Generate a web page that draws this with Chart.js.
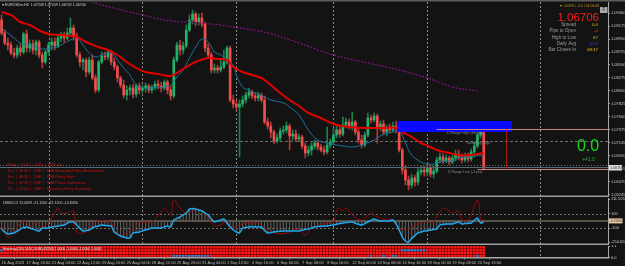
<!DOCTYPE html>
<html>
<head>
<meta charset="utf-8">
<script src="https://cdn.jsdelivr.net/npm/chart.js@4.4.1/dist/chart.umd.min.js"></script>
<style>
  html, body { margin: 0; padding: 0; background: #131313; }
  #wrap { position: relative; width: 625px; height: 266px; overflow: hidden; background: #131313; }
  #wrap canvas { position: absolute; left: 0; }
</style>
</head>
<body>
<div id="wrap">
  <canvas id="mainChart" width="625" height="197" style="top:0px"></canvas>
  <canvas id="cciChart" width="625" height="48" style="top:197px"></canvas>
  <canvas id="heatChart" width="625" height="21" style="top:245px"></canvas>
</div>
<script>
// EURUSDm H4 candles, bar index 0 = 16 Aug 12:00
const opens = [
  1.09282,1.09056,1.08882,1.08847,1.08708,1.08673,1.08795,1.08725,1.09038,1.08795,
  1.08864,1.08760,1.08899,1.08673,1.08551,1.08725,1.08847,1.08899,1.08830,1.08969,
  1.09021,1.08969,1.09056,1.09143,1.09004,1.08673,1.08551,1.08586,1.08377,1.08586,
  1.08273,1.08064,1.08551,1.08656,1.08638,1.08725,1.08551,1.08464,1.08273,1.08151,
  1.07977,1.08064,1.08099,1.07994,1.08134,1.08064,1.08099,1.08134,1.08064,1.08116,
  1.08168,1.08134,1.08099,1.08203,1.08064,1.07960,1.08586,1.08847,1.08760,1.08830,
  1.09108,1.09282,1.09386,1.09247,1.09317,1.09212,1.08795,1.08673,1.08412,1.08447,
  1.08412,1.08464,1.08551,1.08795,1.07890,1.07820,1.07768,1.07820,1.07890,1.07977,
  1.08029,1.07960,1.07925,1.07977,1.07890,1.07507,1.07438,1.07333,1.07177,1.07229,
  1.07351,1.07368,1.07438,1.07264,1.07298,1.07211,1.07246,1.07090,1.06968,1.07020,
  1.07090,1.07142,1.07072,1.07020,1.06985,1.07107,1.07159,1.07281,1.07368,1.07298,
  1.07455,1.07507,1.07438,1.07507,1.07333,1.07194,1.07107,1.07281,1.07577,1.07542,
  1.07612,1.07403,1.07472,1.07333,1.07403,1.07368,1.07438,1.07403,1.07020,1.06672,
  1.06498,1.06411,1.06533,1.06463,1.06637,1.06672,1.06637,1.06707,1.06602,1.06655,
  1.06846,1.06898,1.06829,1.06881,1.06811,1.06881,1.06950,1.06898,1.06846,1.06916,
  1.06863,1.06985,1.07090,1.07281,1.07333
];
const highs = [
  1.09369,1.09108,1.08969,1.08899,1.08795,1.08847,1.08864,1.09073,1.09108,1.08934,
  1.08934,1.08934,1.08934,1.08725,1.08760,1.08899,1.08969,1.08969,1.09021,1.09073,
  1.09073,1.09143,1.09317,1.09195,1.09056,1.08725,1.08621,1.08621,1.08638,1.08673,
  1.08325,1.08586,1.08725,1.08725,1.08760,1.08760,1.08621,1.08499,1.08308,1.08238,
  1.08134,1.08151,1.08168,1.08168,1.08186,1.08151,1.08186,1.08168,1.08151,1.08221,
  1.08238,1.08203,1.08238,1.08238,1.08134,1.08638,1.08899,1.08934,1.08899,1.09195,
  1.09369,1.09456,1.09421,1.09386,1.09404,1.09247,1.08864,1.08725,1.08516,1.08499,
  1.08586,1.08760,1.08830,1.08830,1.07977,1.07890,1.07890,1.07960,1.08029,1.08099,
  1.08064,1.08012,1.08029,1.08012,1.07960,1.07577,1.07507,1.07368,1.07298,1.07403,
  1.07438,1.07507,1.07472,1.07368,1.07368,1.07298,1.07281,1.07142,1.07090,1.07142,
  1.07194,1.07177,1.07124,1.07090,1.07420,1.07211,1.07403,1.07438,1.07438,1.07594,
  1.07577,1.07559,1.07681,1.07542,1.07403,1.07281,1.07333,1.07664,1.07629,1.07664,
  1.07646,1.07525,1.07542,1.07455,1.07472,1.07507,1.07525,1.07455,1.07055,1.06742,
  1.06568,1.06602,1.06585,1.06707,1.06742,1.06742,1.06776,1.06759,1.06742,1.06898,
  1.06968,1.06950,1.06933,1.06916,1.06933,1.07020,1.07020,1.06950,1.06968,1.06968,
  1.07037,1.07159,1.07368,1.07472,1.07403
];
const lows = [
  1.09021,1.08847,1.08760,1.08673,1.08621,1.08621,1.08656,1.08690,1.08725,1.08725,
  1.08690,1.08673,1.08621,1.08447,1.08516,1.08673,1.08760,1.08760,1.08795,1.08899,
  1.08899,1.08934,1.09004,1.08934,1.08638,1.08464,1.08412,1.08290,1.08342,1.08238,
  1.08012,1.08029,1.08516,1.08586,1.08586,1.08499,1.08412,1.08203,1.08099,1.07925,
  1.07890,1.07977,1.07925,1.07942,1.07994,1.08012,1.08029,1.08012,1.08012,1.08064,
  1.08081,1.08029,1.08064,1.07994,1.07890,1.07925,1.08551,1.08673,1.08690,1.08795,
  1.09073,1.09212,1.09178,1.09195,1.09160,1.08725,1.08621,1.08360,1.08360,1.08360,
  1.08377,1.08429,1.08516,1.07855,1.07751,1.07716,1.06898,1.07768,1.07838,1.07925,
  1.07907,1.07873,1.07873,1.07855,1.07472,1.07385,1.07229,1.07124,1.07142,1.07177,
  1.07298,1.07316,1.07020,1.07194,1.07159,1.07159,1.07037,1.06881,1.06916,1.06933,
  1.07037,1.07020,1.06985,1.06933,1.06950,1.07055,1.07124,1.07229,1.07246,1.07264,
  1.07403,1.07385,1.07368,1.07281,1.07142,1.07055,1.07072,1.07246,1.07490,1.07507,
  1.07142,1.07351,1.07281,1.07264,1.07316,1.07333,1.07316,1.06985,1.06602,1.06411,
  1.06324,1.06359,1.06394,1.06411,1.06585,1.06568,1.06568,1.06550,1.06533,1.06620,
  1.06794,1.06776,1.06794,1.06759,1.06776,1.06829,1.06846,1.06794,1.06811,1.06811,
  1.06829,1.06898,1.07055,1.07229,1.06672
];
const closes = [
  1.09056,1.08882,1.08847,1.08708,1.08673,1.08795,1.08725,1.09038,1.08795,1.08864,
  1.08760,1.08899,1.08673,1.08551,1.08725,1.08847,1.08899,1.08830,1.08969,1.09021,
  1.08969,1.09056,1.09143,1.09004,1.08673,1.08551,1.08586,1.08377,1.08586,1.08273,
  1.08064,1.08551,1.08656,1.08638,1.08725,1.08551,1.08464,1.08273,1.08151,1.07977,
  1.08064,1.08099,1.07994,1.08134,1.08064,1.08099,1.08134,1.08064,1.08116,1.08168,
  1.08134,1.08099,1.08203,1.08064,1.07960,1.08586,1.08847,1.08760,1.08830,1.09108,
  1.09282,1.09386,1.09247,1.09317,1.09212,1.08795,1.08673,1.08412,1.08447,1.08412,
  1.08464,1.08551,1.08795,1.07890,1.07820,1.07768,1.07820,1.07890,1.07977,1.08029,
  1.07960,1.07925,1.07977,1.07890,1.07507,1.07438,1.07333,1.07177,1.07229,1.07351,
  1.07368,1.07438,1.07264,1.07298,1.07211,1.07246,1.07090,1.06968,1.07020,1.07090,
  1.07142,1.07072,1.07020,1.06985,1.07107,1.07159,1.07281,1.07368,1.07298,1.07455,
  1.07507,1.07438,1.07507,1.07333,1.07194,1.07107,1.07281,1.07577,1.07542,1.07612,
  1.07403,1.07472,1.07333,1.07403,1.07368,1.07438,1.07403,1.07020,1.06672,1.06498,
  1.06411,1.06533,1.06463,1.06637,1.06672,1.06637,1.06707,1.06602,1.06655,1.06846,
  1.06898,1.06829,1.06881,1.06811,1.06881,1.06950,1.06898,1.06846,1.06916,1.06863,
  1.06985,1.07090,1.07281,1.07333,1.06706
];

// moving averages (read at sample bars)
const redEmaIdx = [0,3,6,9,13,16,19,22,24,27,31,34,37,40,43,46,50,54,56,59,62,66,69,72,74,77,80,83,86,89,92,95,98,102,106,111,117,122,126,128,131,134,137,140,143,146,150,154];
const redEma = [1.09421,1.09369,1.09247,1.09195,1.09073,1.09030,1.09021,1.09004,1.08986,1.08899,
  1.08812,1.08760,1.08673,1.08551,1.08447,1.08377,1.08342,1.08308,1.08360,1.08464,
  1.08551,1.08621,1.08603,1.08586,1.08464,1.08377,1.08325,1.08273,1.08151,1.08012,
  1.07890,1.07786,1.07664,1.07577,1.07472,1.07420,1.07403,1.07403,1.07403,1.07333,
  1.07246,1.07142,1.07072,1.07003,1.06968,1.06933,1.06933,1.06968];
const blueMaIdx = [0,2,4,6,9,11,13,16,18,20,22,24,26,28,30,32,35,37,39,41,43,45,48,52,54,56,58,60,62,64,66,68,70,72,74,75,77,79,81,84,86,90,92,95,98,101,104,107,109,112,115,119,122,125,127,129,131,134,136,138,140,142,144,146,149,151,154];
const blueMa = [1.09143,1.09056,1.08969,1.08882,1.08847,1.08812,1.08777,1.08795,1.08812,1.08882,
  1.08934,1.08969,1.08847,1.08708,1.08638,1.08673,1.08708,1.08586,1.08447,1.08325,
  1.08151,1.08099,1.08099,1.08116,1.08151,1.08290,1.08412,1.08621,1.08812,1.08951,
  1.08899,1.08725,1.08673,1.08586,1.08499,1.08325,1.08116,1.08064,1.08012,1.07942,
  1.07890,1.07838,1.07768,1.07629,1.07368,1.07194,1.07142,1.07107,1.07090,1.07072,
  1.07107,1.07194,1.07298,1.07333,1.07368,1.07142,1.06933,1.06811,1.06776,1.06776,
  1.06811,1.06829,1.06829,1.06881,1.06898,1.06916,1.06933];
const longMaIdx = [0,10,20,27,32,45,54,64,74,85,95,106,117,127,136,144,152];
const longMa = [1.10065,1.09891,1.09717,1.09630,1.09543,1.09369,1.09265,1.09230,1.09160,1.09056,1.08882,1.08673,1.08534,1.08412,1.08273,1.08116,1.08047];

// DMI&CCI window
const cci = [
  -110,-150,-178,-170,-164,-140,-110,-90,-82,-95,
  -110,-125,-137,-96,-98,-96,-85,-75,-68,-60,
  -55,-30,-14,-14,-55,-100,-137,-130,-123,-95,
  -75,-68,-55,-60,-65,-68,-151,-180,-205,-220,
  -233,-233,-164,-158,-151,-135,-123,-110,-96,-96,
  -96,-96,-80,-68,-82,14,35,55,85,110,
  164,170,164,150,137,110,82,30,-14,0,
  14,27,-27,-80,-123,-150,-164,-96,-90,-82,
  -80,-82,-82,-82,-130,-164,-158,-151,-145,-140,
  -138,-137,-137,-137,-137,-137,-125,-115,-110,-95,
  -82,-75,-72,-70,-68,-60,-55,-45,-35,-27,
  -20,-16,-14,-30,-45,-55,-35,-14,10,27,
  10,0,0,0,5,14,-40,-123,-220,-274,
  -288,-240,-200,-164,-150,-137,-130,-123,-115,-110,
  -55,-48,-41,-41,-41,-25,-14,-41,-35,-30,
  -27,10,41,-27,-14
];
const dmiIdx = [0,2,4,6,8,9,11,13,15,17,18,19,21,23,24,27,29,31,34,35,36,38,40,42,44,46,48,51,52,54,55,57,59,61,63,66,68,70,72,74,76,78,82,84,87,91,95,97,99,101,104,106,107,108,109,110,112,115,117,118,120,123,125,127,129,130,132,134,136,138,139,141,143,144,146,147,149,150,152,153];
const dmi = [-55,-219,-164,-27,-14,-82,-27,-82,-14,110,
  178,110,110,137,-151,-151,-55,0,0,-14,
  -123,-192,-164,-96,-27,-14,-14,123,178,82,
  288,178,110,137,164,41,-68,-55,-14,-96,
  -55,-27,-27,-96,-164,-164,-110,-192,-96,-68,
  -27,-27,151,178,137,178,82,14,82,110,
  55,14,14,-96,-123,-100,-55,-27,-14,-14,
  55,178,137,110,137,14,14,82,288,-14];

// heatmap window: bars where a row turns blue
const heatRowBlue = [
  [55,56,57,58,59,60,61,62,63,64,65,66,118,122,125,126,152],
  [],
  [0,128,129,130,131,132,133,134,135],
  []
];

// axes
const priceTicks = [1.09400,1.09175,1.08950,1.08725,1.08500,1.08275,1.08050,1.07825,1.07600,1.07375,1.07145,1.06920,1.06695,1.06470,1.06245];
const cciTickVals = [297, 100, -100, -292];
const cciTickLabels = ['111.5056', '100', '-100', '-254.6567'];
const heatTickVals = [1.1, 0];
const heatTickLabels = ['1.1', '0.0'];
const xTickIdx = [0,8,16,24,32,40,48,56,64,72,80,88,96,104,112,120,128,136,144,152];
const xLabels = ['16 Aug 2023','17 Aug 20:00','21 Aug 04:00','22 Aug 12:00','23 Aug 20:00','25 Aug 04:00','28 Aug 12:00','29 Aug 20:00','31 Aug 04:00','1 Sep 12:00',
  '4 Sep 16:00','6 Sep 00:00','7 Sep 08:00','8 Sep 16:00','12 Sep 00:00','13 Sep 08:00','14 Sep 16:00','18 Sep 00:00','19 Sep 08:00','20 Sep 16:00'];
const weekStarts = [15, 45, 75, 106, 136, 172];

// levels and objects on the price chart
const yesterdayHigh = 1.07177;
const yesterdayLow = 1.06759;
const dRangeHigh = 1.07385;
const dRangeLow = 1.06689;
const zone = { from: 126.4, to: 163, top: 1.07525, bottom: 1.07333 };
const rangeBar = 161;

const newsLines = [
  'Wed  |  15:45  |  NZD  |  GDP q/q',
  'Thu  |  09:30  |  CHF  |  SNB Monetary Policy Assessment',
  'Thu  |  09:30  |  CHF  |  SNB Policy Rate',
  'Thu  |  09:30  |  CHF  |  SNB Press Conference',
  'Thu  |  12:00  |  GBP  |  Monetary Policy Summary'
];
const infoRows = [
  ['Spread', '0.0', '#e3c01e'],
  ['Pips to Open', '-4', '#ff2222'],
  ['High to Low', '67', '#e3c01e'],
  ['Daily Avg', '57.0', '#2a45ff'],
  ['Bar Closes In', '08:37', '#e3c01e']
];

const FONT = "'Liberation Sans', Arial, sans-serif";
Chart.defaults.font.family = FONT;
Chart.defaults.font.size = 4;
Chart.defaults.color = '#c4c4c4';
Chart.defaults.animation = false;
Chart.defaults.plugins.legend.display = false;
Chart.defaults.plugins.tooltip.enabled = false;

const X_MIN = -0.5, X_MAX = 193.7;
const AXIS_W = 17;
const BULL = '#22b26b', BEAR = '#f24d4d', BULL_WICK = '#1c7e4b', BEAR_WICK = '#b13838';

function xAxis() {
  return { type: 'linear', min: X_MIN, max: X_MAX, display: false, offset: false };
}
function fixRight(s) { s.width = AXIS_W; s.paddingTop = 0; s.paddingBottom = 0; }

function text(ctx, s, x, y, color, size, align) {
  ctx.save();
  ctx.font = size + 'px ' + FONT;
  ctx.fillStyle = color;
  ctx.textAlign = align || 'left';
  ctx.textBaseline = 'middle';
  ctx.fillText(s, x, y);
  ctx.restore();
}
function hLine(ctx, x1, x2, y, color, width, dash) {
  ctx.save();
  ctx.strokeStyle = color; ctx.lineWidth = width; ctx.setLineDash(dash || []);
  ctx.beginPath(); ctx.moveTo(x1, y); ctx.lineTo(x2, y); ctx.stroke();
  ctx.restore();
}
function weekLines(chart) {
  const { ctx, chartArea, scales } = chart;
  ctx.save();
  ctx.strokeStyle = '#8a8a8a'; ctx.lineWidth = 1; ctx.setLineDash([2, 2]);
  weekStarts.forEach(i => {
    const x = Math.round(scales.x.getPixelForValue(i)) + 0.5;
    ctx.beginPath(); ctx.moveTo(x, chartArea.top); ctx.lineTo(x, chartArea.bottom); ctx.stroke();
  });
  ctx.restore();
}

// ---------- price window ----------
const mainOverlay = {
  id: 'mainOverlay',
  beforeDatasetsDraw(chart) {
    const { ctx, chartArea, scales: { y } } = chart;
    weekLines(chart);
    hLine(ctx, chartArea.left, chartArea.right, Math.round(y.getPixelForValue(yesterdayHigh)) + 0.5, '#6c6c6c', 1, [3, 2]);
    hLine(ctx, chartArea.left, chartArea.right, Math.round(y.getPixelForValue(yesterdayLow)) + 0.5, '#6c6c6c', 1, [1, 2]);
  },
  afterDatasetsDraw(chart) {
    const { ctx, chartArea, scales: { x, y } } = chart;
    // supply zone
    ctx.fillStyle = '#0a0aff';
    const zx1 = x.getPixelForValue(zone.from), zx2 = x.getPixelForValue(zone.to);
    const zy1 = y.getPixelForValue(zone.top), zy2 = y.getPixelForValue(zone.bottom);
    ctx.fillRect(zx1, zy1, zx2 - zx1, zy2 - zy1);
    // day range lines
    const yH = Math.round(y.getPixelForValue(dRangeHigh)) + 0.5;
    const yL = Math.round(y.getPixelForValue(dRangeLow)) + 0.5;
    const bid = closes[closes.length - 1];
    const yB = Math.round(y.getPixelForValue(bid)) + 0.5;
    hLine(ctx, chartArea.left, chartArea.right, yB - 1, '#56687a', 1);
    hLine(ctx, x.getPixelForValue(139), chartArea.right, yH, '#c98484', 1.2);
    hLine(ctx, x.getPixelForValue(152), chartArea.right, yL, '#c98484', 1.2);
    ctx.save();
    ctx.strokeStyle = '#a01818'; ctx.lineWidth = 1;
    const rx = Math.round(x.getPixelForValue(rangeBar)) + 0.5;
    ctx.beginPath(); ctx.moveTo(rx, yH); ctx.lineTo(rx, yL); ctx.stroke();
    ctx.restore();
    text(ctx, 'D Range High (66 pts)', 447, yH + 3, '#8c8c8c', 3.6);
    text(ctx, 'Yesterday High', 466, y.getPixelForValue(yesterdayHigh) + 2, '#8c8c8c', 3.6);
    text(ctx, 'D Range Low (-3 pts)', 448, yL + 2.5, '#8c8c8c', 3.6);

    // news
    newsLines.forEach((s, k) => text(ctx, s, 7, 165 + k * 6, '#cc1515', 3.8));

    // header
    text(ctx, '\u25BE EURUSDm,H4  1.07208 1.07209 1.06702 1.06706', 2, 4.5, '#d6d6d6', 3.6);

    // info panel
    text(ctx, '\u25BC -0.06% / -2.0 / 01:06:03', 599, 6, '#d49a1c', 3.4, 'right');
    text(ctx, bid.toFixed(5), 599, 18, '#ff1c1c', 11.5, 'right');
    infoRows.forEach((r, k) => {
      const yy = 24.8 + k * 6.3;
      text(ctx, r[0], 576, yy, '#9c9c9c', 4.6, 'right');
      text(ctx, r[1], 598, yy, r[2], 4.4, 'right');
    });
    ctx.fillStyle = '#a8a8a8';
    ctx.fillRect(600, 7, 7.5, 6);
    text(ctx, 'F', 603.8, 10.2, '#1e1e1e', 4.5, 'center');

    text(ctx, '0.0', 588, 147, '#1ed41e', 16, 'center');
    text(ctx, '+41.0', 588.5, 159.5, '#2fa52f', 5, 'center');

    // borders
    ctx.fillStyle = '#5c5c5c';
    ctx.fillRect(0, 0, 625, 1.5);
    ctx.fillStyle = '#a0a0a0';
    ctx.fillRect(0, 195.5, chartArea.right, 1.5);

    // current price on axis
    ctx.fillStyle = '#dedede';
    ctx.fillRect(609, yB - 3.5, 13, 5.5);
    text(ctx, bid.toFixed(5), 610, yB - 0.7, '#2a2a2a', 3.8);
  }
};

new Chart(document.getElementById('mainChart'), {
  type: 'bar',
  data: {
    datasets: [
      { type: 'line', data: redEmaIdx.map((i, k) => ({ x: i, y: redEma[k] })), borderColor: '#e00000', borderWidth: 2, pointRadius: 0, tension: 0.4, order: 0 },
      { type: 'line', data: blueMaIdx.map((i, k) => ({ x: i, y: blueMa[k] })), borderColor: '#1a7499', borderWidth: 1, pointRadius: 0, tension: 0.4, order: 1 },
      { type: 'line', data: longMaIdx.map((i, k) => ({ x: i, y: longMa[k] })), borderColor: '#7a157a', borderWidth: 1.3, borderDash: [2, 1.5], pointRadius: 0, tension: 0.4, order: 2 },
      { data: opens.map((o, i) => ({ x: i, y: [o, closes[i]] })), backgroundColor: opens.map((o, i) => closes[i] >= o ? BULL : BEAR),
        barThickness: 2, minBarLength: 1, grouped: false, order: 3 },
      { data: lows.map((l, i) => ({ x: i, y: [l, highs[i]] })), backgroundColor: opens.map((o, i) => closes[i] >= o ? BULL_WICK : BEAR_WICK),
        barThickness: 1, grouped: false, order: 4 }
    ]
  },
  options: {
    responsive: false, devicePixelRatio: 1,
    layout: { padding: { top: 2, bottom: 1, left: 0, right: 0 } },
    scales: {
      x: xAxis(),
      y: {
        position: 'right', min: 1.06220, max: 1.09595, afterFit: fixRight,
        afterBuildTicks: s => { s.ticks = priceTicks.map(v => ({ value: v })); },
        ticks: { callback: v => v.toFixed(5), padding: 1, color: '#c4c4c4', autoSkip: false },
        grid: { drawOnChartArea: false, tickLength: 2, color: '#a0a0a0' },
        border: { color: '#a8a8a8' }
      }
    }
  },
  plugins: [mainOverlay]
});

// ---------- DMI&CCI window ----------
const cciOverlay = {
  id: 'cciOverlay',
  beforeDatasetsDraw(chart) {
    const { ctx, chartArea, scales: { y } } = chart;
    weekLines(chart);
    hLine(ctx, chartArea.left, chartArea.right, Math.round(y.getPixelForValue(100)) + 0.5, '#707070', 1, [2, 2]);
    hLine(ctx, chartArea.left, chartArea.right, Math.round(y.getPixelForValue(-100)) + 0.5, '#707070', 1, [2, 2]);
    hLine(ctx, chartArea.left, chartArea.right, y.getPixelForValue(0), '#6f6656', 1.6);
  },
  afterDatasetsDraw(chart) {
    const { ctx, chartArea, scales: { y } } = chart;
    text(ctx, 'DMI&CCI 15.0059 -21.1200 -21.1200 -13.8456', 3, 6, '#d0d0d0', 3.6);
    ctx.fillStyle = '#a0a0a0';
    ctx.fillRect(0, 46.5, chartArea.right, 1.5);
    const yy = y.getPixelForValue(0);
    ctx.fillStyle = '#e9c9a3';
    ctx.fillRect(609, yy - 2.6, 13.5, 5);
    text(ctx, '-0.2000', 609.5, yy, '#333', 3.6);
  }
};

new Chart(document.getElementById('cciChart'), {
  type: 'bar',
  data: {
    datasets: [
      { type: 'line', data: cci.map((v, i) => ({ x: i, y: v })), borderColor: '#1ea8ec', borderWidth: 1.5, pointRadius: 0, tension: 0.3, order: 0 },
      { type: 'line', data: dmiIdx.map((i, k) => ({ x: i, y: dmi[k] })), borderColor: '#8e0c0c', borderWidth: 1, pointRadius: 0, tension: 0.4, order: 1 },
      { data: cci.map((v, i) => ({ x: i, y: [0, v] })), backgroundColor: '#5c5c5c', barThickness: 0.5, grouped: false, order: 2 }
    ]
  },
  options: {
    responsive: false, devicePixelRatio: 1,
    layout: { padding: { top: 1, bottom: 1, left: 0, right: 0 } },
    scales: {
      x: xAxis(),
      y: {
        position: 'right', min: -315, max: 315, afterFit: fixRight,
        afterBuildTicks: s => { s.ticks = cciTickVals.map(v => ({ value: v })); },
        ticks: { callback: (v, i) => cciTickLabels[i], padding: 1, color: '#c4c4c4', autoSkip: false },
        grid: { drawOnChartArea: false, tickLength: 2, color: '#a0a0a0' },
        border: { color: '#a8a8a8' }
      }
    }
  },
  plugins: [cciOverlay]
});

// ---------- heatmap window ----------
const ROW_H = 0.275;
const heatSets = heatRowBlue.map((blue, r) => ({
  data: opens.map((o, i) => ({ x: i, y: [r * ROW_H, (r + 1) * ROW_H] })),
  backgroundColor: opens.map((o, i) => blue.includes(i) ? '#2b8ee6' : '#ff1c1c'),
  borderColor: '#7e0000', borderWidth: 0.6, borderSkipped: false,
  barThickness: 3.2, grouped: false
}));

const heatOverlay = {
  id: 'heatOverlay',
  beforeDatasetsDraw(chart) { weekLines(chart); },
  afterDatasetsDraw(chart) {
    text(chart.ctx, 'Heatmap(240,1440,10080,43200) 1.0000 -1.0000 -1.0000 1.0000', 3, 4.3, '#f2f2f2', 3.4);
  }
};

new Chart(document.getElementById('heatChart'), {
  type: 'bar',
  data: { datasets: heatSets },
  options: {
    responsive: false, devicePixelRatio: 1,
    layout: { padding: { top: 1, bottom: 0, left: 0, right: 0 } },
    scales: {
      x: {
        type: 'linear', min: X_MIN, max: X_MAX, offset: false, position: 'bottom',
        afterBuildTicks: s => { s.ticks = xTickIdx.map(v => ({ value: v })); },
        afterFit: s => { s.height = 8.5; s.paddingLeft = 0; s.paddingRight = 0; },
        ticks: { callback: (v, i) => xLabels[i], align: 'start', padding: 1, maxRotation: 0, autoSkip: false, color: '#bcbcbc' },
        grid: { drawOnChartArea: false, tickLength: 2, color: '#a0a0a0' },
        border: { color: '#a8a8a8', width: 1.5 }
      },
      y: {
        position: 'right', min: 0, max: 1.1, afterFit: fixRight,
        afterBuildTicks: s => { s.ticks = heatTickVals.map(v => ({ value: v })); },
        ticks: { callback: (v, i) => heatTickLabels[i], padding: 1, color: '#c4c4c4', autoSkip: false },
        grid: { drawOnChartArea: false, tickLength: 2, color: '#a0a0a0' },
        border: { color: '#a8a8a8' }
      }
    }
  },
  plugins: [heatOverlay]
});
</script>
</body>
</html>
